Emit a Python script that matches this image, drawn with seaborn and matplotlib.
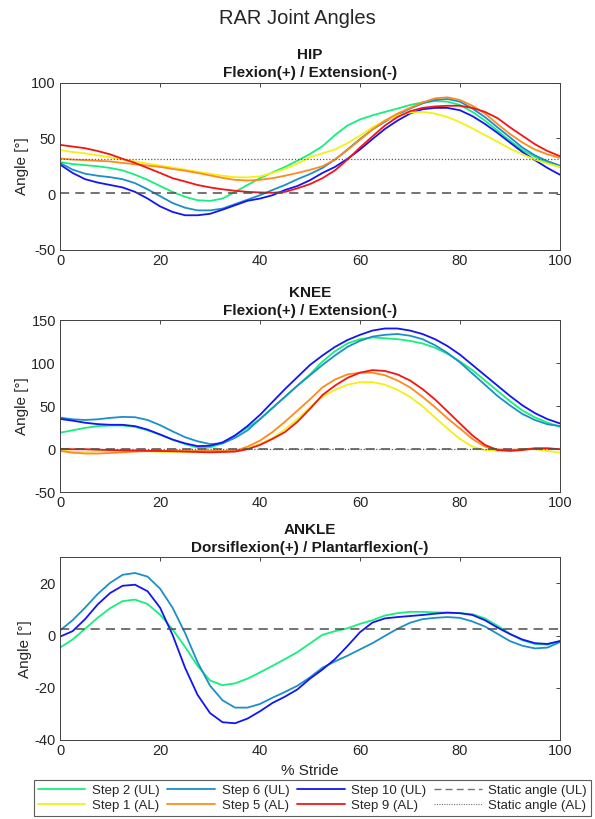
import matplotlib
matplotlib.use("Agg")
import matplotlib.pyplot as plt
import numpy as np
import seaborn as sns
from matplotlib.lines import Line2D

# % stride co 2.5
stride = np.arange(0, 100.1, 2.5)

# HIP
hip_s2 = [28.7, 27, 26, 25, 23.5, 21.3, 17.4, 12.8, 7.3, 2, -2.4, -5.5, -6.1, -4, 2, 8.2, 14.3, 19.5, 24.4, 30, 36,
          43, 53, 61.6, 67, 70.7, 73.8, 76.8, 80, 82.3, 83.5, 83, 80, 73.8, 66, 57, 48, 39.6, 33.5, 28, 24.4]
hip_s6 = [28, 22, 18.3, 16.5, 15.2, 13.4, 9.8, 4.3, -1.8, -8, -12.2, -14.6, -14.6, -13, -9, -5, -1, 3.7, 8.2, 13.4, 18,
          23.5, 31, 40, 49.4, 58, 65, 71.3, 76.8, 81.4, 84.5, 85.4, 83, 76.8, 69.2, 60, 51, 41.8, 34.8, 29.6, 25.6]
hip_s10 = [26.5, 19, 13.4, 10.4, 8.2, 6, 2, -4, -11, -16, -19, -19, -17.7, -14, -10, -6, -4, -1, 3.7, 7.3, 12.5,
           19, 24.4, 31.7, 40, 49.4, 58.5, 66, 72.3, 76.2, 77.4, 77.4, 75.3, 70, 63, 55, 46.3, 37.8, 30.5, 23.5, 17.4]
hip_s1 = [39.6, 37.8, 36.6, 34.8, 33, 31, 29.3, 27.4, 25.6, 23.8, 22, 20, 18.3, 16.5, 15.2, 15, 15.9, 19, 22.6, 27.4, 33,
          36.6, 40, 45.7, 52.4, 60, 66, 70.7, 73.2, 73.8, 72.3, 69.2, 64.6, 59, 53, 47, 40.9, 35.7, 31, 27.4, 24.4]
hip_s5 = [32, 31, 30.5, 29.9, 29.3, 28, 26.8, 25.6, 24.4, 22.6, 21, 19, 16.8, 14.6, 12.8, 12.2, 12.8, 14.3, 16.5, 19, 21.8,
          25, 31, 39.6, 48.8, 58, 66, 72.3, 77.4, 82.3, 86, 86.9, 84.5, 79.3, 72.3, 63, 54, 46.3, 40, 35.7, 32.6]
hip_s9 = [44.2, 42.7, 41.2, 38.7, 35.7, 31.7, 28, 23.5, 19, 14.3, 11.3, 8.2, 6, 4.3, 3, 2, 1.5, 1.2, 2, 5.2, 9,
          14.3, 21.3, 31, 41.8, 51.8, 61.6, 69.2, 74.4, 77.4, 78.7, 79.3, 79.3, 77.4, 73.8, 68.3, 60, 52.4, 44.8, 38.7, 34.1]
hip_static_ul = 0.7
hip_static_al = 31.1

# KNEE
knee_s2 = [19.2, 22, 24.8, 26.8, 27.6, 27.6, 26, 22, 16.8, 11.2, 6, 2, 2, 6.8, 16, 25, 35, 48, 61, 74, 87,
           102, 114, 123, 128, 130, 129, 128, 126, 123, 118, 111, 102, 92, 80, 68, 56, 45, 37, 31, 26]
knee_s6 = [36.8, 34.8, 34, 34.8, 36.4, 37.6, 37.2, 34, 28, 20.8, 14, 9.2, 6, 6.8, 13.2, 22, 35, 48, 61, 74, 86,
           98, 109, 119, 126, 131, 133, 134, 132, 128, 121, 112, 101, 88, 75, 62, 51, 41, 34, 29, 27]
knee_s10 = [35.2, 33.2, 30.8, 29.2, 28.4, 28.4, 26.8, 22.8, 17.2, 11.2, 6.8, 3.6, 4, 8, 16, 27, 40, 55, 70, 84, 98,
            109, 119, 127, 133, 138, 140.4, 140.4, 138, 134, 128, 120, 110, 98, 86, 74, 62, 51, 42, 35, 30]
knee_s1 = [-1, -3, -3, -2.5, -2, -2, -2, -2.5, -3, -3, -3, -3, -3, -2.5, -2, 1, 6, 13, 23, 35, 49,
           61, 69, 75, 78, 78, 75, 69, 61, 50, 37, 24, 12, 3, -1, -2, -1, 0, 0, -2, -4]
knee_s5 = [-2, -4, -5, -5, -4.4, -3.6, -2.8, -2, -2, -2, -2, -2, -2, -2, -2, 3, 10, 20, 32, 45, 58,
           72, 81, 87, 89, 89, 86, 80, 72, 61, 49, 36, 24, 12, 3, 0, -1, 0, 1, 1, 0]
knee_s9 = [0.4, 0, 0, -0.5, -1, -1.3, -1.6, -1.8, -2, -2.4, -2.8, -3.2, -3.6, -3.2, -2.8, 0, 5, 12, 20, 32, 47,
           63, 74, 83, 89, 92, 91, 87, 80, 70, 58, 44, 30, 16, 5, -1, -2, -1, 1, 1, 0]
knee_static_ul = 0
knee_static_al = 0

# ANKLE
ankle_s2 = [-4.6, -1.5, 2.6, 6.8, 10.5, 13.2, 13.8, 12.1, 8, 2.4, -4.3, -11.6, -17.2, -19, -18.3, -16.5, -14.1, -11.6, -9, -6.3, -3,
            0.3, 1.7, 2.8, 4.5, 5.9, 7.7, 8.6, 9.1, 9.1, 8.9, 8.8, 8.6, 8.2, 6.6, 3.8, 0.7, -1.8, -3.2, -3.5, -2.1]
ankle_s6 = [2, 5.9, 10.7, 15.9, 20.2, 23.3, 24, 22.6, 18, 10.7, 1, -10.2, -19.2, -24.8, -27.6, -27.6, -26.2, -23.8, -21.6, -19.2, -16,
            -12.3, -9.9, -7.7, -5.3, -2.9, -0.1, 2.6, 4.9, 6.3, 6.8, 7.1, 6.8, 5.4, 3.5, 0.7, -2.1, -3.9, -4.9, -4.6, -2.5]
ankle_s10 = [-0.4, 1.7, 6.3, 11.9, 16.3, 19.1, 19.5, 17, 10.7, 0.3, -12.3, -22.7, -29.7, -33.2, -33.6, -31.8, -29, -25.8, -23.4, -20.6, -16.5,
             -13, -9, -4, 1.3, 5, 6.6, 7.1, 7.5, 7.9, 8.4, 8.8, 8.6, 7.9, 5.9, 3.1, 0.6, -1.5, -2.9, -3.2, -2.1]
ankle_static_ul = 2.4

labels = ["Step 2 (UL)", "Step 1 (AL)", "Step 6 (UL)", "Step 5 (AL)",
          "Step 10 (UL)", "Step 9 (AL)", "Static angle (UL)", "Static angle (AL)"]
kolory = {"s2": "#14f07c", "s6": "#1c8fc9", "s10": "#1414f5",
          "s1": "#f5f014", "s5": "#ff8a1e", "s9": "#f51414"}

sns.set_style("white")
plt.rcParams["font.family"] = ["Liberation Sans", "DejaVu Sans"]
plt.rcParams["axes.unicode_minus"] = False

fig = plt.figure(figsize=(5.95, 8.19), dpi=100)
ax_hip = fig.add_axes([0.101, 0.695, 0.840, 0.204])
ax_knee = fig.add_axes([0.101, 0.399, 0.840, 0.210])
ax_ankle = fig.add_axes([0.101, 0.0965, 0.840, 0.223])

fig.text(0.5, 0.977, "RAR Joint Angles", ha="center", va="center", fontsize=14.5)


def rysuj(ax, serie, static_ul, static_al, ylim, yticks, title):
    for klucz, y in serie:
        sns.lineplot(x=stride, y=y, color=kolory[klucz], linewidth=1.3, ax=ax)
    ax.axhline(static_ul, color="0.3", linestyle=(0, (6, 4)), linewidth=1.1)
    if static_al is not None:
        ax.axhline(static_al, color="0.35", linestyle=(0, (1, 1.5)), linewidth=0.9)
    ax.set_xlim(0, 100)
    ax.set_ylim(*ylim)
    ax.set_xticks([0, 20, 40, 60, 80, 100])
    ax.set_yticks(yticks)
    ax.tick_params(direction="in", top=True, right=True, length=3, width=0.6,
                   colors="0.15", labelsize=10.5, pad=3)
    for s in ax.spines.values():
        s.set_color("0.25")
        s.set_linewidth(0.7)
    ax.set_ylabel("Angle [°]", fontsize=11, color="0.15", labelpad=2)
    ax.set_title(title, fontsize=11, fontweight="bold", color="0.1", pad=4,
                 linespacing=1.35)


rysuj(ax_hip, [("s2", hip_s2), ("s6", hip_s6), ("s10", hip_s10),
               ("s1", hip_s1), ("s5", hip_s5), ("s9", hip_s9)],
      hip_static_ul, hip_static_al, (-50, 100), [-50, 0, 50, 100],
      "HIP\nFlexion(+) / Extension(-)")
rysuj(ax_knee, [("s2", knee_s2), ("s6", knee_s6), ("s10", knee_s10),
                ("s1", knee_s1), ("s5", knee_s5), ("s9", knee_s9)],
      knee_static_ul, knee_static_al, (-50, 150), [-50, 0, 50, 100, 150],
      "KNEE\nFlexion(+) / Extension(-)")
rysuj(ax_ankle, [("s2", ankle_s2), ("s6", ankle_s6), ("s10", ankle_s10)],
      ankle_static_ul, None, (-40, 30), [-40, -20, 0, 20],
      "ANKLE\nDorsiflexion(+) / Plantarflexion(-)")
ax_ankle.set_xlabel("% Stride", fontsize=11, color="0.15", labelpad=4)

uchwyty = [
    Line2D([], [], color=kolory["s2"], lw=1.3),
    Line2D([], [], color=kolory["s1"], lw=1.3),
    Line2D([], [], color=kolory["s6"], lw=1.3),
    Line2D([], [], color=kolory["s5"], lw=1.3),
    Line2D([], [], color=kolory["s10"], lw=1.3),
    Line2D([], [], color=kolory["s9"], lw=1.3),
    Line2D([], [], color="0.45", lw=1.0, linestyle=(0, (5, 3))),
    Line2D([], [], color="0.45", lw=0.8, linestyle=(0, (1, 1.2))),
]
leg = fig.legend(uchwyty, labels, ncol=4, loc="lower center",
                 bbox_to_anchor=(0.525, 0.0), fontsize=9.5, frameon=True,
                 fancybox=False, edgecolor="0.2", handlelength=3.6,
                 columnspacing=0.6, handletextpad=0.5, labelspacing=0.22,
                 borderpad=0.3, borderaxespad=0.25)
leg.get_frame().set_linewidth(0.8)

fig.savefig("out.png", dpi=100)
